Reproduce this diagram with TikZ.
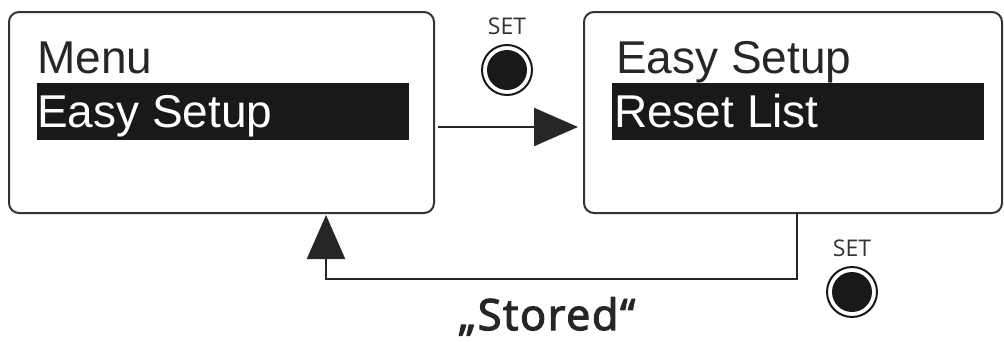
\documentclass[tikz,border=0pt]{standalone}
\usepackage{fontspec}
\setmainfont{Liberation Sans}
\newfontfamily\keyfont{Open Sans}
\newfontfamily\msgfont{Open Sans}[FakeBold=3, LetterSpace=4]
\usetikzlibrary{arrows.meta,positioning}

\begin{document}
\begin{tikzpicture}[x=1pt, y=-1pt, >={Triangle[length=44pt,width=38pt]},
  screen/.style={draw=black!80, line width=2pt, rounded corners=10pt,
    inner sep=0pt, minimum height=201pt},
  bar/.style={fill=black!90, inner sep=0pt, anchor=north west,
    minimum width=372pt, minimum height=57pt},
  item/.style={anchor=base west, inner sep=0pt, text=black!85,
    font=\fontsize{46}{50}\selectfont},
  button/.style={circle, fill=black!90, inner sep=0pt, minimum size=40pt},
  ring/.style={draw=black!90, line width=2pt, fill=white},
  keylabel/.style={inner sep=0pt, text=black!80,
    font=\keyfont\fontsize{23}{25}\selectfont},
  flow/.style={draw=black!85, line width=2.2pt}]

  % 全体の大きさ
  \useasboundingbox (0,0) rectangle (1004,341);

  % 2つの画面
  \node[screen, minimum width=425pt] (scrA) at (221.5,112.5) {};
  \node[screen, minimum width=418pt] (scrB) at (793,112.5) {};

  % 反転表示のバー
  \node[bar] (barA) at (37,83) {};
  \node[bar] (barB) at (612,83) {};

  % 画面の文字
  \node[item] (menu) at (37,73) {Menu};
  \node[item, text=white] (easyA) at (37,127) {Easy Setup};
  \node[item] (easyB) at (616,73) {Easy Setup};
  \node[item, text=white] (reset) at (614,127) {Reset List};

  % SET ボタン（外側の輪と黒丸）
  \draw[ring] (507,70) circle (25);
  \node[button] (setA) at (507,70) {};
  \node[keylabel, above=15pt of setA] (lblA) {SET};
  \draw[ring] (852,292) circle (25);
  \node[button] (setB) at (852,292) {};
  \node[keylabel, above=15pt of setB] (lblB) {SET};

  % 矢印
  \draw[flow, ->] ([shift={(3,14.5)}]scrA.east) -- ([shift={(-5,14.5)}]scrB.west);
  \draw[flow, ->] ([shift={(4,0)}]scrB.south) -- ++(0,65)
    -| ([shift={(104.5,1)}]scrA.south);

  % 戻るときの表示
  \node[anchor=base, inner sep=0pt, text=black!85,
    font=\msgfont\fontsize{43}{46}\selectfont] (stored) at (547,330) {„Stored“};

\end{tikzpicture}
\end{document}
